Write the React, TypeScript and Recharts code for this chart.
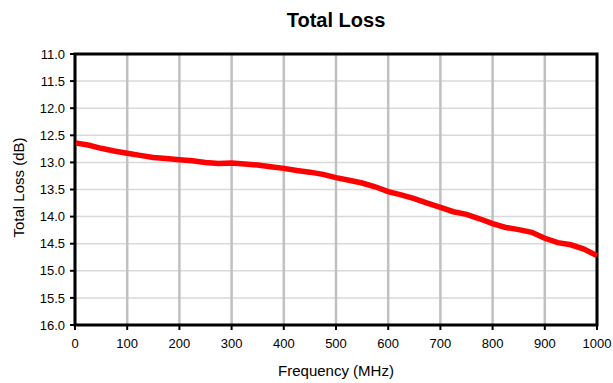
import React from 'react';
import { LineChart, Line, XAxis, YAxis, CartesianGrid, ReferenceArea } from 'recharts';

const frequencies = [0, 25, 50, 75, 100, 125, 150, 175, 200, 225, 250, 275, 300, 325, 350, 375, 400, 425, 450, 475, 500, 525, 550, 575, 600, 625, 650, 675, 700, 725, 750, 775, 800, 825, 850, 875, 900, 925, 950, 975, 1000];
const totalLoss = [12.64, 12.68, 12.74, 12.79, 12.83, 12.87, 12.91, 12.93, 12.95, 12.97, 13.0, 13.02, 13.01, 13.03, 13.05, 13.08, 13.11, 13.15, 13.18, 13.22, 13.28, 13.33, 13.38, 13.45, 13.54, 13.6, 13.67, 13.75, 13.83, 13.91, 13.96, 14.04, 14.13, 14.2, 14.24, 14.29, 14.4, 14.48, 14.52, 14.6, 14.72];
const xTicks = [0, 100, 200, 300, 400, 500, 600, 700, 800, 900, 1000];
const yTicks = [11.0, 11.5, 12.0, 12.5, 13.0, 13.5, 14.0, 14.5, 15.0, 15.5, 16.0];

const data = frequencies.map((f, i) => ({ freq: f, loss: totalLoss[i] }));

const FONT = '"Liberation Sans", Arial, sans-serif';

export default function App() {
  return (
    <div style={{ position: 'absolute', left: 0, top: 0, width: 613, height: 383, background: '#fff', fontFamily: FONT }}>
      <div style={{ position: 'absolute', left: 75, width: 522, top: 9, textAlign: 'center', fontSize: 20, fontWeight: 'bold', color: '#000', lineHeight: '23px' }}>
        Total Loss
      </div>
      <LineChart width={613} height={383} data={data} margin={{ top: 54, right: 16, bottom: 0, left: 0 }}>
        <CartesianGrid horizontal={true} vertical={false} stroke="#d9d9d9" strokeWidth={1.5} />
        <CartesianGrid horizontal={false} vertical={true} stroke="#c0c0c0" strokeWidth={2.5} />
        <XAxis
          type="number"
          dataKey="freq"
          domain={[0, 1000]}
          ticks={xTicks}
          interval={0}
          height={58}
          tickSize={5}
          tickMargin={9}
          axisLine={{ stroke: '#000', strokeWidth: 2 }}
          tickLine={{ stroke: '#000', strokeWidth: 2 }}
          tick={{ fill: '#000', fontSize: 13, fontFamily: FONT }}
          label={{ value: 'Frequency (MHz)', position: 'insideBottom', offset: 7, fill: '#000', fontSize: 15, fontFamily: FONT }}
        />
        <YAxis
          type="number"
          reversed
          domain={[11, 16]}
          ticks={yTicks}
          interval={0}
          width={75}
          tickSize={5}
          tickMargin={5}
          tickFormatter={(v: number) => v.toFixed(1)}
          axisLine={{ stroke: '#000', strokeWidth: 2 }}
          tickLine={{ stroke: '#000', strokeWidth: 2 }}
          tick={{ fill: '#000', fontSize: 13, fontFamily: FONT }}
          label={{
            content: (props: any) => {
              const vb = props.viewBox || {};
              const cy = (vb.y || 0) + (vb.height || 0) / 2 - 2;
              const cx = 18;
              return (
                <text x={cx} y={cy} transform={`rotate(-90, ${cx}, ${cy})`} textAnchor="middle" dominantBaseline="central" fill="#000" fontSize={15} fontFamily={FONT}>
                  Total Loss (dB)
                </text>
              );
            },
          }}
        />
        <ReferenceArea x1={0} x2={1000} y1={11} y2={16} fill="none" stroke="#000" strokeWidth={3} ifOverflow="visible" />
        <Line type="linear" dataKey="loss" stroke="#ff0000" strokeWidth={5.5} dot={false} isAnimationActive={false} />
      </LineChart>
    </div>
  );
}
